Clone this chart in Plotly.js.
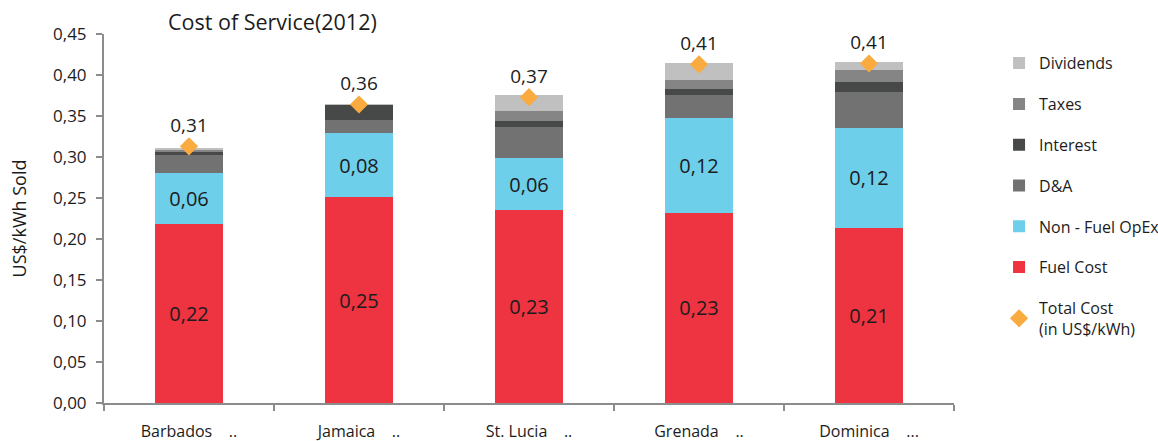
<!DOCTYPE html>
<html>
<head>
<meta charset="utf-8">
<script src="https://cdn.plot.ly/plotly-3.0.1.min.js"></script>
<style>
  html, body { margin: 0; padding: 0; background: #ffffff; }
  #chart { width: 1158px; height: 441px; }
</style>
</head>
<body>
<div id="chart"></div>
<script>
// Cost of service by utility, 2012 (US$/kWh sold)
const countries = ['Barbados    ..', 'Jamaica    ..', 'St. Lucia    ..', 'Grenada    ..', 'Dominica    ...'];

const fuelCost    = [0.218, 0.251, 0.235, 0.232, 0.214];
const nonFuelOpEx = [0.063, 0.078, 0.064, 0.116, 0.121];
const depreciation = [0.022, 0.0165, 0.0375, 0.0277, 0.044];
const interest    = [0.003, 0.0175, 0.008, 0.007, 0.0123];
const taxes       = [0.002, 0.000, 0.0115, 0.011, 0.015];
const dividends   = [0.0026, 0.002, 0.020, 0.0205, 0.0098];
const totalCost   = [0.313, 0.364, 0.373, 0.413, 0.414];

const FONT = 'Open Sans, sans-serif';
const INK = '#1c1c1c';
const AXIS = '#8c8c8c';

function segment(name, values, color, rank, labelled) {
  return {
    type: 'bar',
    name: name,
    x: countries,
    y: values,
    marker: { color: color, line: { width: 0 } },
    legendgroup: name,
    legendrank: rank,
    texttemplate: labelled ? '%{y:.2f}' : '',
    textposition: labelled ? 'inside' : 'none',
    insidetextanchor: 'middle',
    textangle: 0,
    constraintext: 'none',
    textfont: { family: FONT, size: 20, color: INK },
    hoverinfo: 'skip'
  };
}

const traces = [
  segment('Fuel Cost', fuelCost, '#EE3341', 6, true),
  segment('Non - Fuel OpEx', nonFuelOpEx, '#6DCFEA', 5, true),
  segment('D&amp;A', depreciation, '#727272', 4, false),
  segment('Interest', interest, '#474948', 3, false),
  segment('Taxes', taxes, '#858585', 2, false),
  segment('Dividends', dividends, '#C0C0C0', 1, false),
  {
    type: 'scatter',
    mode: 'markers+text',
    name: 'Total Cost<br>(in US$/kWh)',
    x: countries,
    y: totalCost,
    marker: { symbol: 'diamond', size: 14, color: '#F9AB3F' },
    texttemplate: '%{y:.2f}',
    textposition: 'top center',
    textfont: { family: FONT, size: 19, color: INK },
    legendgroup: 'total',
    legendrank: 7,
    hoverinfo: 'skip'
  }
];

const layout = {
  width: 1158,
  height: 441,
  separators: ',.',
  barmode: 'stack',
  bargap: 0.6,
  paper_bgcolor: '#ffffff',
  plot_bgcolor: '#ffffff',
  font: { family: FONT, color: INK },
  margin: { l: 104, r: 204, t: 34, b: 38, autoexpand: false },
  title: {
    text: 'Cost of Service(2012)',
    font: { family: FONT, size: 21.5, color: INK },
    xref: 'container',
    x: 168 / 1158,
    xanchor: 'left',
    yref: 'container',
    y: 1 - 22 / 441,
    yanchor: 'middle'
  },
  xaxis: {
    type: 'category',
    showline: true,
    linecolor: AXIS,
    linewidth: 2,
    ticks: 'outside',
    tickson: 'boundaries',
    ticklen: 6,
    tickwidth: 2,
    tickcolor: AXIS,
    showgrid: false,
    zeroline: false,
    tickfont: { family: FONT, size: 16, color: INK },
    ticklabelstandoff: 13
  },
  yaxis: {
    range: [0, 0.45],
    dtick: 0.05,
    tick0: 0,
    tickformat: '.2f',
    showline: true,
    linecolor: AXIS,
    linewidth: 2,
    ticks: 'outside',
    ticklen: 6,
    tickwidth: 2,
    tickcolor: AXIS,
    showgrid: false,
    zeroline: false,
    tickfont: { family: FONT, size: 17, color: INK },
    ticklabelstandoff: 6,
    title: { text: 'US$/kWh Sold', font: { family: FONT, size: 18, color: INK }, standoff: 22 }
  },
  showlegend: true,
  legend: {
    x: 1.053,
    xanchor: 'left',
    y: 0.967,
    yanchor: 'top',
    traceorder: 'grouped',
    tracegroupgap: 17,
    font: { family: FONT, size: 16, color: INK },
    bgcolor: 'rgba(0,0,0,0)'
  }
};

Plotly.newPlot('chart', traces, layout, { displayModeBar: false, staticPlot: true });
</script>
</body>
</html>
